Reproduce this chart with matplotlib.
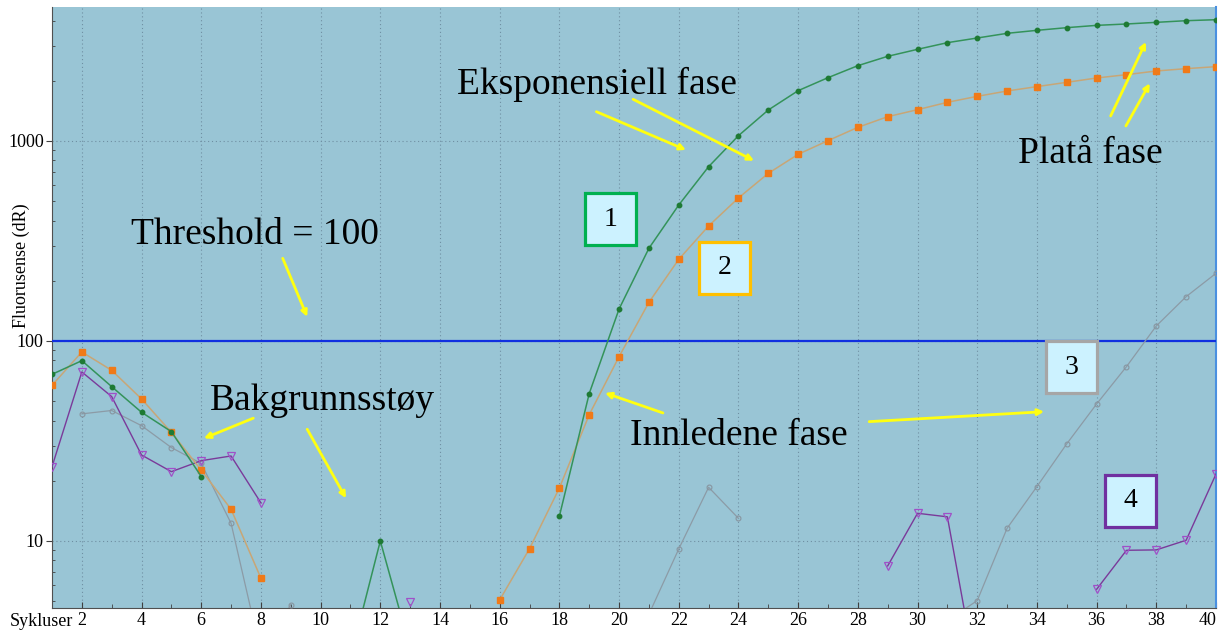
import numpy as np
import matplotlib
matplotlib.use("Agg")
import matplotlib.pyplot as plt
from matplotlib.patches import Rectangle
from matplotlib.ticker import FixedLocator, NullFormatter

nan = np.nan

# Sykluser 1-40
cycles = np.arange(1, 41)

# Prøve 1 (grønn)
green = [68.1, 79.7, 59.1, 44.0, 35.2, 21.0, nan, nan, nan, nan,
         2.6, 10.0, 2.9, nan, nan, nan, nan, 13.3, 54.6, 144.5,
         290.7, 478.6, 744, 1063, 1429, 1785, 2073, 2380, 2651, 2873,
         3102, 3273, 3454, 3575, 3687, 3786, 3846, 3920, 3995, 4041]

# Prøve 2 (oransje)
orange = [60.0, 88.1, 71.3, 51.3, 34.9, 22.6, 14.4, 6.51, nan, nan,
          nan, nan, nan, nan, nan, 5.07, 9.15, 18.4, 42.8, 83.5,
          156, 256, 376, 519, 689, 858, 1004, 1170, 1323, 1434,
          1561, 1672, 1778, 1870, 1965, 2065, 2146, 2239, 2300, 2353]

# Prøve 3 (grå)
gray = [nan, 43.2, 44.9, 37.7, 29.3, 24.4, 12.25, 2.75, 4.8, nan,
        nan, nan, nan, nan, nan, nan, nan, nan, nan, nan,
        4.3, 9.12, 18.55, 12.97, nan, nan, nan, nan, nan, nan,
        4.0, 5.03, 11.57, 18.7, 30.6, 48.4, 74.4, 118.9, 166.6, 217.9]

# Prøve 4 (lilla)
purple = [23.5, 70.0, 52.7, 26.9, 22.2, 25.2, 26.6, 15.5, nan, nan,
          nan, nan, 4.94, nan, nan, nan, nan, nan, nan, nan,
          nan, nan, nan, nan, nan, nan, nan, nan, 7.5, 13.75,
          13.2, 2.0, nan, nan, nan, 5.73, 8.98, 9.02, 10.08, 21.6]

threshold = 100
x_ticks = list(range(2, 41, 2))
y_ticks = [10, 100, 1000]

plt.rcParams["font.family"] = ["Liberation Serif", "DejaVu Serif"]

fig = plt.figure(figsize=(12.19, 6.32), dpi=100)
ax = fig.add_axes([0.04266, 0.03797, 0.95488, 0.95095])
ax.set_facecolor("#99C5D5")

ax.set_yscale("log")
ax.set_xlim(1, 40)
ax.set_ylim(4.62, 4677)

# gridlines
for x in x_ticks[:-1]:
    ax.axvline(x, color="#6F8FA2", ls=(0, (1, 2.5)), lw=0.8, zorder=1)
for y in y_ticks:
    ax.axhline(y, color="#6F8FA2", ls=(0, (1, 2.5)), lw=0.8, zorder=1)

ax.axhline(threshold, color="#1030E0", lw=1.6, zorder=3)

ax.plot(cycles, gray, color="#8C9BA6", lw=0.9, marker="o", ms=3.5,
        mfc="none", mec="#8895A0", mew=0.8, zorder=4)
ax.plot(cycles, purple, color="#7A3A9A", lw=1.0, marker="v", ms=5.5,
        mfc="none", mec="#A050C8", mew=0.9, zorder=5)
ax.plot(cycles, orange, color="#C8A676", lw=1.1, marker="s", ms=4.2,
        mfc="#F07A18", mec="#F07A18", zorder=6)
ax.plot(cycles, green, color="#34935A", lw=1.1, marker="o", ms=3.2,
        mfc="#1E7A34", mec="#1E7A34", zorder=7)

# akser
ax.xaxis.set_major_locator(FixedLocator(x_ticks))
ax.xaxis.set_minor_locator(FixedLocator(list(range(3, 40, 2))))
ax.set_xticklabels([str(t) for t in x_ticks])
ax.get_xticklabels()[-1].set_horizontalalignment("right")
ax.yaxis.set_major_locator(FixedLocator(y_ticks))
ax.set_yticklabels([str(t) for t in y_ticks])
minor_y = [m * 10 ** e for e in range(0, 4) for m in range(2, 10)]
ax.yaxis.set_minor_locator(FixedLocator(minor_y))
ax.yaxis.set_minor_formatter(NullFormatter())
ax.tick_params(axis="x", which="major", direction="in", length=4,
               labelsize=13, pad=3, color="#404040")
ax.tick_params(axis="x", which="minor", direction="in", length=3,
               color="#404040")
ax.tick_params(axis="y", which="major", direction="out", length=4,
               labelsize=13, pad=2, color="#404040")
ax.tick_params(axis="y", which="minor", direction="in", length=2.5,
               color="#404040")

ax.spines["top"].set_visible(False)
ax.spines["left"].set_color("#505050")
ax.spines["bottom"].set_color("#505050")
ax.spines["right"].set_color("#4A90E0")
ax.spines["right"].set_linewidth(1.5)

ax.set_ylabel("Fluorusense (dR)", fontsize=13)
ax.yaxis.set_label_coords(-0.019, 0.57)
fig.text(10 / 1219, 1 - 621 / 632, "Sykluser", fontsize=13, va="center",
         ha="left")

# tekster og piler
big = dict(fontsize=27, color="black", zorder=9)
ax.text(14.57, 1718, "Eksponensiell fase", ha="left", va="baseline", **big)
ax.text(33.37, 776, "Platå fase", ha="left", va="baseline", **big)
ax.text(3.65, 305, "Threshold = 100", ha="left", va="baseline", **big)
ax.text(6.29, 45.2, "Bakgrunnsstøy", ha="left", va="baseline", **big)
ax.text(20.37, 30.2, "Innledene fase", ha="left", va="baseline", **big)

arrows = [
    ((19.24, 1401), (22.24, 902)),
    ((20.47, 1616), (24.52, 797)),
    ((36.47, 1334), (37.65, 3126)),
    ((36.98, 1189), (37.78, 1943)),
    ((8.73, 259), (9.55, 132)),
    ((7.745, 41.1), (6.09, 32.6)),
    ((9.55, 36.2), (10.85, 16.35)),
    ((21.47, 43.65), (19.53, 54.95)),
    ((28.38, 39.5), (34.24, 44.3)),
]
for start, end in arrows:
    ax.annotate("", xy=end, xytext=start, zorder=9,
                arrowprops=dict(arrowstyle="-|>", color="#FFFF10", lw=2.0,
                                mutation_scale=9, shrinkA=0, shrinkB=0))

# nummererte bokser
boxes = [
    ("1", 0.4579, 0.6040, "#00B050"),
    ("2", 0.5558, 0.5225, "#FFC000"),
    ("3", 0.8540, 0.3577, "#A6A6A6"),
    ("4", 0.9046, 0.1348, "#7030A0"),
]
bw, bh = 0.0438, 0.0865
for label, bx, by, edge in boxes:
    ax.add_patch(Rectangle((bx, by), bw, bh, transform=ax.transAxes,
                           facecolor="#CCF2FF", edgecolor=edge, lw=2.3,
                           zorder=8))
    ax.text(bx + bw / 2, by + bh / 2, label, transform=ax.transAxes,
            ha="center", va="center", fontsize=20, zorder=9)

fig.savefig("out.png", dpi=100)
